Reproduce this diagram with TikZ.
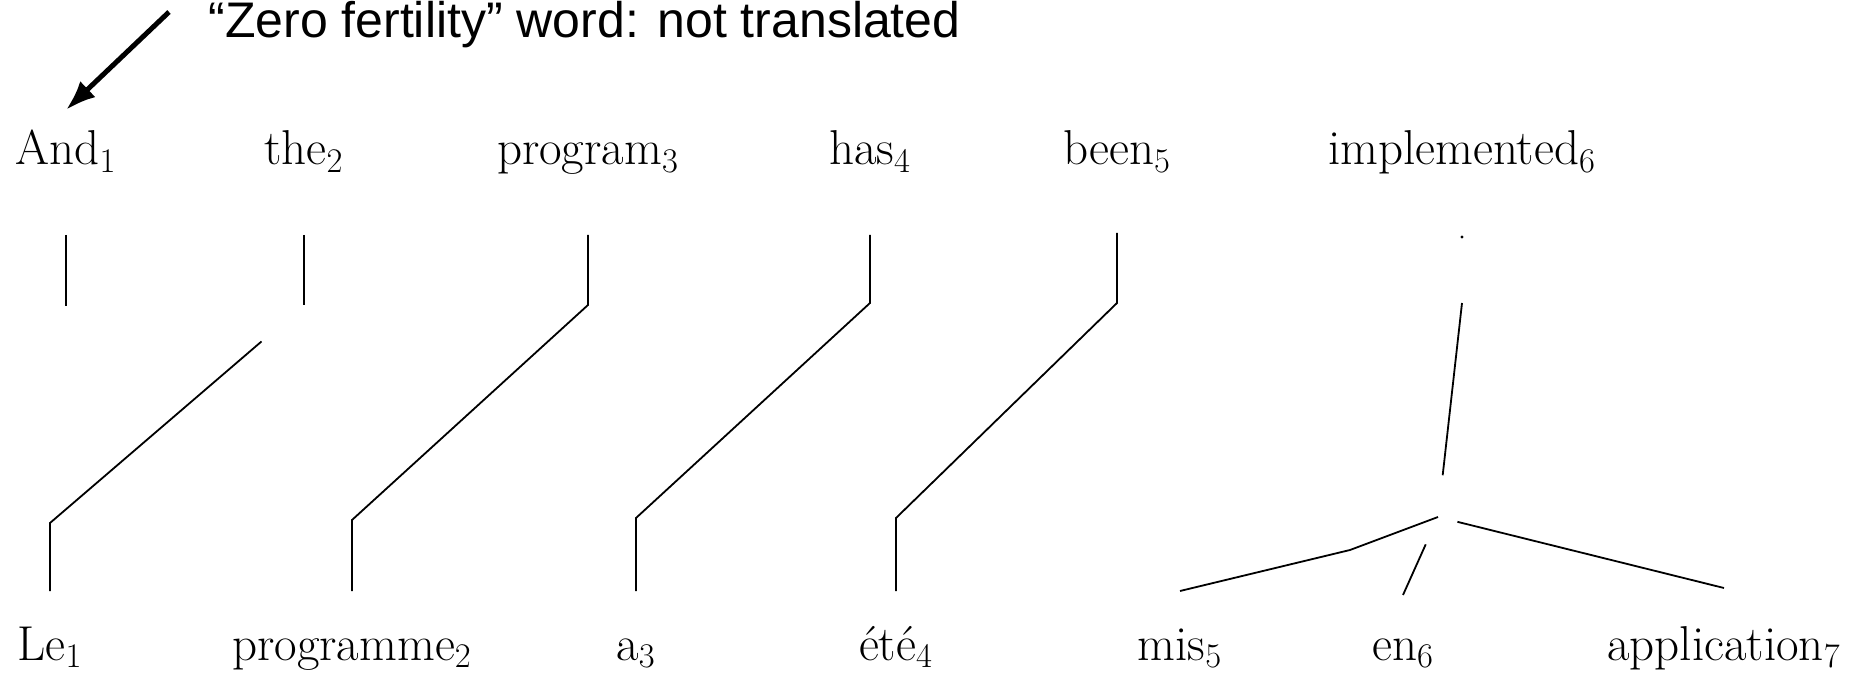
\documentclass[tikz,border=0pt]{standalone}
\usepackage{fontspec}
\usepackage{tikz}
\usetikzlibrary{arrows.meta}
\newfontfamily\notefont{Liberation Sans}

\begin{document}
\begin{tikzpicture}[x=0.5pt, y=-0.5pt, word/.style={inner sep=0pt, anchor=base, font=\fontsize{24.5}{29}\selectfont}, link/.style={draw, line width=0.9pt}]
            \useasboundingbox (0,0) rectangle (1858,678);

            % English words
            \node (and) [word] at (66,165) {And$_1$};
            \node (the) [word] at (304,165) {the$_2$};
            \node (program) [word] at (588,165) {program$_3$};
            \node (has) [word] at (870,165) {has$_4$};
            \node (been) [word] at (1117,165) {been$_5$};
            \node (implemented) [word] at (1462,165) {implemented$_6$};

            % French words
            \node (le) [word] at (50,660) {Le$_1$};
            \node (programme) [word] at (352,660) {programme$_2$};
            \node (a) [word] at (636,660) {a$_3$};
            \node (ete) [word] at (896,660) {été$_4$};
            \node (mis) [word] at (1180,660) {mis$_5$};
            \node (en) [word] at (1403,660) {en$_6$};
            \node (application) [word] at (1724,660) {application$_7$};

            % Note on the unaligned word
            \node (note) [inner sep=0pt, anchor=base west, font=\notefont\fontsize{25}{30}\selectfont] at (208,38) {“Zero fertility” word: not translated};
            \coordinate (tail) at (169,12);
            \draw [-{Latex[length=15pt, width=11pt]}, line width=2.5pt] (tail) -- ([yshift=10pt]and.north);

            % Alignments
            \draw [link] (and |- 0,235) -- (and |- 0,306);
            \draw [link] (the |- 0,235) -- (the |- 0,305);
            \draw [link, shorten <=28pt] (the |- 0,305) -- (le |- 0,523) -- (le |- 0,591);
            \draw [link] (program |- 0,235) -- (program |- 0,305) -- (programme |- 0,520) -- (programme |- 0,591);
            \draw [link] (has |- 0,235) -- (has |- 0,303) -- (a |- 0,518) -- (a |- 0,591);
            \draw [link] (been |- 0,233) -- (been |- 0,303) -- (ete |- 0,518) -- (ete |- 0,591);

            % One word to three
            \fill (implemented |- 0,237) circle (1.6);
            \coordinate (fork) at (1438,517);
            \draw [link, shorten >=21pt] (implemented |- 0,303) -- (fork);
            \draw [link] (fork) -- (1350,550) -- (mis |- 0,591);
            \draw [link, shorten <=15pt] (fork) -- (en |- 0,595);
            \draw [link, shorten <=10pt] (fork) -- (application |- 0,588);
\end{tikzpicture}
\end{document}
